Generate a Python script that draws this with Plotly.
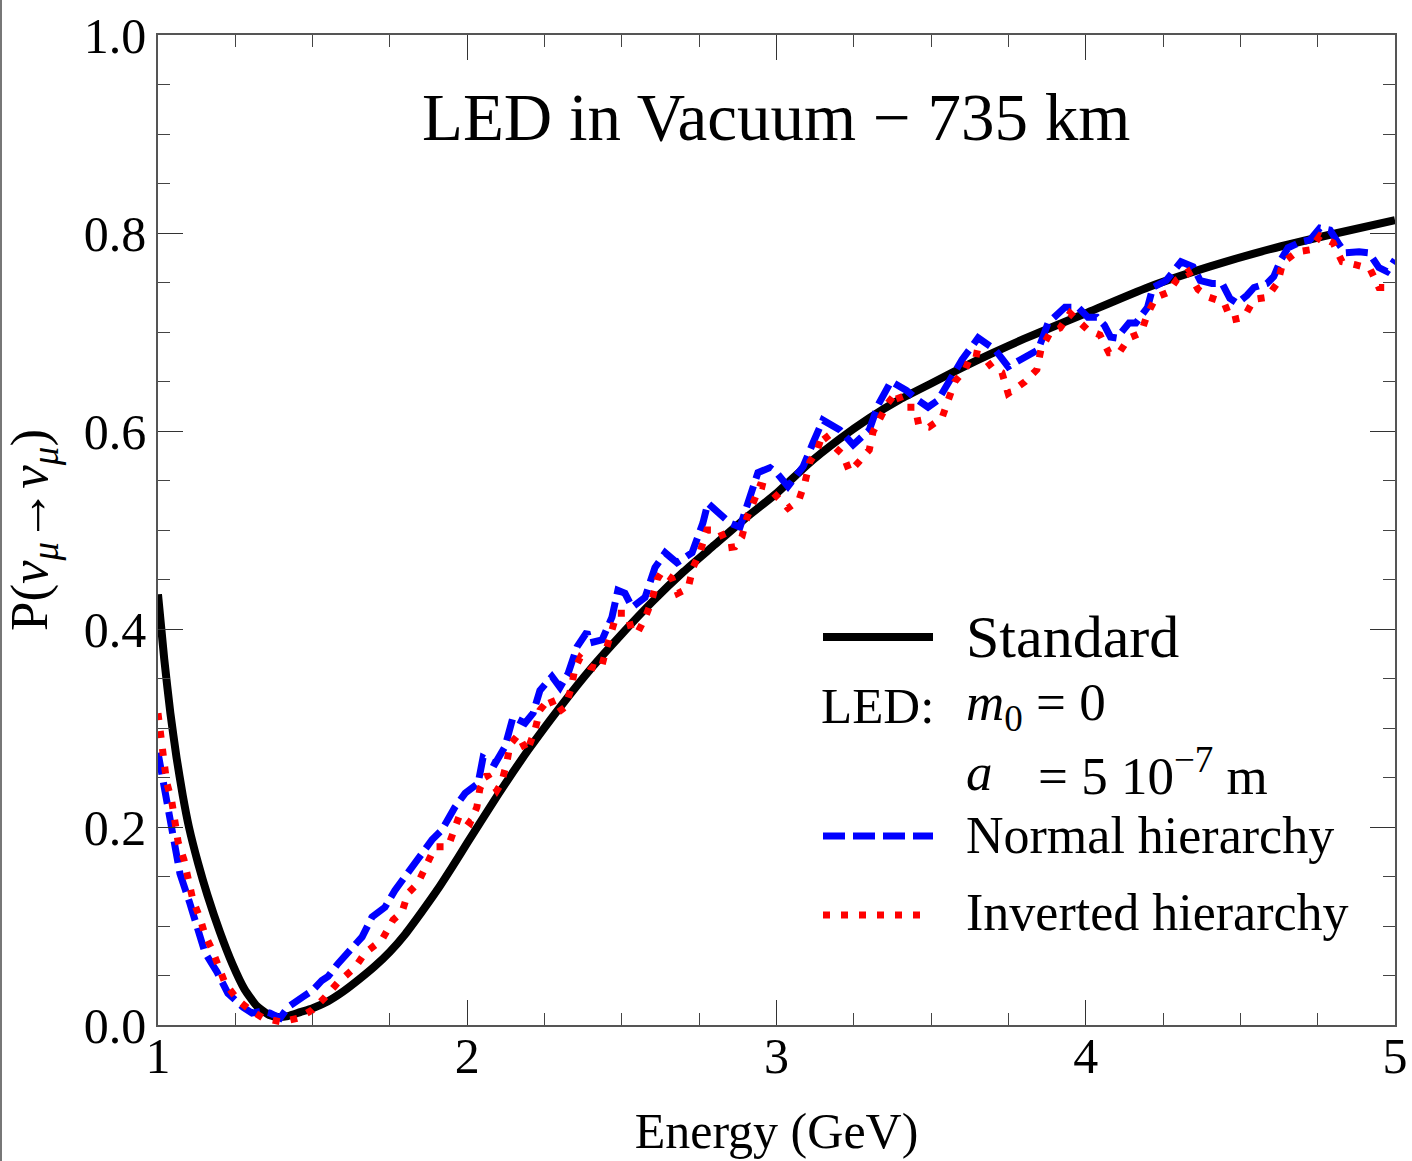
import plotly.graph_objects as go

# ---------------- data ----------------
std_E = [1.00, 1.02, 1.04, 1.06, 1.08, 1.10, 1.13, 1.16, 1.20, 1.24, 1.28, 1.32, 1.36, 1.39,
         1.42, 1.46, 1.50, 1.55, 1.60, 1.65, 1.70, 1.75, 1.80, 1.85, 1.90, 1.95, 2.00,
         2.10, 2.20, 2.30, 2.40, 2.50, 2.60, 2.70, 2.80, 2.90, 3.00, 3.10, 3.20, 3.30,
         3.40, 3.50, 3.60, 3.70, 3.80, 3.90, 4.00, 4.20, 4.40, 4.60, 4.80, 5.00]
std_P = [0.435, 0.370, 0.315, 0.270, 0.232, 0.200, 0.163, 0.131, 0.094, 0.062, 0.036, 0.019, 0.010, 0.008,
         0.009, 0.013, 0.017, 0.024, 0.034, 0.046, 0.059, 0.074, 0.092, 0.113, 0.135, 0.159, 0.184,
         0.233, 0.279, 0.321, 0.360, 0.395, 0.428, 0.458, 0.485, 0.512, 0.537, 0.566, 0.591, 0.613,
         0.632, 0.648, 0.664, 0.679, 0.693, 0.706, 0.719, 0.745, 0.766, 0.784, 0.799, 0.813]

nh_E = [1.000, 1.016, 1.032, 1.055, 1.071, 1.103, 1.126, 1.152, 1.190, 1.226, 1.275, 1.304, 1.335,
        1.362, 1.395, 1.420, 1.466, 1.500, 1.530, 1.550, 1.582, 1.627, 1.660, 1.692, 1.734, 1.766,
        1.808, 1.840, 1.886, 1.918, 1.960, 1.993, 2.035, 2.051, 2.090, 2.122, 2.148, 2.187, 2.213,
        2.235, 2.274, 2.300, 2.326, 2.355, 2.387, 2.397, 2.436, 2.468, 2.487, 2.510, 2.533, 2.575,
        2.607, 2.640, 2.678, 2.727, 2.762, 2.778, 2.817, 2.850, 2.882, 2.905, 2.940, 2.979, 3.000,
        3.037, 3.086, 3.118, 3.150, 3.205, 3.248, 3.300, 3.328, 3.370, 3.420, 3.458, 3.490, 3.522,
        3.558, 3.600, 3.652, 3.707, 3.749, 3.794, 3.846, 3.878, 3.933, 3.975, 4.007, 4.036, 4.060,
        4.080, 4.100, 4.140, 4.162, 4.200, 4.217, 4.260, 4.290, 4.308, 4.347, 4.370, 4.408, 4.441,
        4.466, 4.490, 4.521, 4.544, 4.586, 4.608, 4.631, 4.654, 4.696, 4.725, 4.757, 4.790, 4.816,
        4.838, 4.884, 4.916, 4.948, 4.974, 5.000]
nh_P = [0.275, 0.247, 0.218, 0.187, 0.153, 0.123, 0.099, 0.073, 0.054, 0.032, 0.018, 0.012, 0.014,
        0.012, 0.007, 0.018, 0.028, 0.035, 0.045, 0.049, 0.062, 0.079, 0.089, 0.109, 0.119, 0.136,
        0.153, 0.167, 0.187, 0.197, 0.220, 0.234, 0.244, 0.270, 0.264, 0.281, 0.311, 0.305, 0.315,
        0.338, 0.352, 0.341, 0.355, 0.382, 0.397, 0.386, 0.389, 0.412, 0.439, 0.436, 0.422, 0.432,
        0.462, 0.477, 0.467, 0.477, 0.507, 0.527, 0.517, 0.507, 0.503, 0.527, 0.558, 0.563, 0.558,
        0.544, 0.564, 0.588, 0.611, 0.601, 0.586, 0.601, 0.626, 0.650, 0.641, 0.631, 0.624, 0.631,
        0.651, 0.672, 0.694, 0.682, 0.665, 0.672, 0.682, 0.709, 0.725, 0.725, 0.715, 0.715, 0.707,
        0.695, 0.694, 0.709, 0.709, 0.725, 0.745, 0.752, 0.763, 0.771, 0.766, 0.752, 0.749, 0.749,
        0.734, 0.729, 0.737, 0.745, 0.749, 0.756, 0.773, 0.785, 0.791, 0.793, 0.805, 0.803, 0.790,
        0.780, 0.781, 0.780, 0.765, 0.761, 0.773]

ih_E = [1.000, 1.013, 1.028, 1.044, 1.065, 1.084, 1.097, 1.113, 1.136, 1.152, 1.175, 1.217, 1.259,
        1.298, 1.340, 1.400, 1.453, 1.498, 1.540, 1.582, 1.637, 1.670, 1.724, 1.760, 1.789, 1.808,
        1.840, 1.873, 1.896, 1.938, 1.960, 1.975, 2.009, 2.031, 2.041, 2.064, 2.096, 2.110, 2.128,
        2.138, 2.164, 2.193, 2.219, 2.235, 2.268, 2.290, 2.316, 2.336, 2.348, 2.365, 2.397, 2.432,
        2.449, 2.468, 2.484, 2.517, 2.533, 2.552, 2.575, 2.597, 2.614, 2.630, 2.662, 2.681, 2.714,
        2.730, 2.753, 2.775, 2.817, 2.843, 2.866, 2.888, 2.905, 2.924, 2.947, 2.973, 3.005, 3.037,
        3.072, 3.092, 3.108, 3.131, 3.150, 3.180, 3.215, 3.236, 3.264, 3.300, 3.312, 3.341, 3.360,
        3.390, 3.409, 3.448, 3.460, 3.493, 3.535, 3.555, 3.577, 3.610, 3.632, 3.665, 3.697, 3.729,
        3.749, 3.778, 3.804, 3.842, 3.855, 3.884, 3.917, 3.949, 3.981, 4.007, 4.046, 4.075, 4.108,
        4.140, 4.179, 4.198, 4.227, 4.266, 4.295, 4.331, 4.363, 4.399, 4.447, 4.470, 4.512, 4.544,
        4.586, 4.621, 4.637, 4.683, 4.725, 4.757, 4.800, 4.829, 4.871, 4.919, 4.948, 5.000]
ih_P = [0.315, 0.283, 0.245, 0.227, 0.185, 0.167, 0.146, 0.126, 0.108, 0.091, 0.076, 0.042, 0.025,
        0.015, 0.007, 0.003, 0.007, 0.015, 0.028, 0.043, 0.058, 0.073, 0.086, 0.106, 0.114, 0.133,
        0.143, 0.165, 0.180, 0.180, 0.197, 0.212, 0.204, 0.220, 0.239, 0.253, 0.237, 0.244, 0.265,
        0.283, 0.293, 0.276, 0.298, 0.318, 0.331, 0.315, 0.321, 0.340, 0.360, 0.371, 0.362, 0.359,
        0.379, 0.397, 0.416, 0.416, 0.397, 0.397, 0.411, 0.429, 0.450, 0.458, 0.451, 0.436, 0.441,
        0.462, 0.478, 0.500, 0.500, 0.482, 0.483, 0.493, 0.513, 0.527, 0.545, 0.543, 0.532, 0.522,
        0.530, 0.548, 0.569, 0.580, 0.598, 0.586, 0.576, 0.559, 0.568, 0.581, 0.599, 0.616, 0.628,
        0.640, 0.624, 0.624, 0.606, 0.604, 0.613, 0.631, 0.650, 0.662, 0.679, 0.677, 0.664, 0.659,
        0.638, 0.644, 0.650, 0.662, 0.682, 0.699, 0.704, 0.719, 0.710, 0.702, 0.697, 0.679, 0.679,
        0.694, 0.699, 0.717, 0.735, 0.740, 0.753, 0.761, 0.743, 0.735, 0.730, 0.712, 0.715, 0.733,
        0.735, 0.750, 0.770, 0.781, 0.783, 0.797, 0.790, 0.771, 0.768, 0.764, 0.745, 0.745]

x_ticks = [1, 2, 3, 4, 5]
y_ticks = [0.0, 0.2, 0.4, 0.6, 0.8, 1.0]

title_text = "LED in Vacuum \u2212 735 km"
x_title = "Energy (GeV)"
y_title = "P(<i>\u03bd</i><sub><i>\u03bc</i></sub>\u2192<i>\u03bd</i><sub><i>\u03bc</i></sub>)"

FONT = "Liberation Serif, Times New Roman, serif"

# ---------------- figure ----------------
W, H = 1412, 1161
L, R, T, B = 158, 1395, 35, 1025

fig = go.Figure()
fig.add_trace(go.Scatter(x=std_E, y=std_P, mode="lines", line=dict(color="black", width=8, shape="spline", smoothing=0.5),
                         showlegend=False, hoverinfo="skip"))
fig.add_trace(go.Scatter(x=nh_E, y=nh_P, mode="lines", line=dict(color="#0000ff", width=7, dash="22px,8px"),
                         showlegend=False, hoverinfo="skip"))
fig.add_trace(go.Scatter(x=ih_E, y=ih_P, mode="lines", line=dict(color="#ff0000", width=7, dash="7px,11px"),
                         showlegend=False, hoverinfo="skip"))

axis_common = dict(
    showgrid=False, zeroline=False, showline=True, linecolor="#555555", linewidth=1.5,
    mirror="allticks", ticks="inside", ticklen=25, tickwidth=1.3, tickcolor="#333333",
    tickfont=dict(family=FONT, size=50, color="black"), automargin=False,
)
fig.update_xaxes(range=[1, 5], tickvals=x_ticks, ticktext=[str(v) for v in x_ticks],
                 minor=dict(dtick=0.25, tick0=1, ticks="inside", ticklen=12, tickwidth=1.2, tickcolor="#444444"),
                 title=dict(text=x_title, font=dict(family=FONT, size=50, color="black"), standoff=30),
                 ticklabelstandoff=-14,
                 **axis_common)
fig.update_yaxes(range=[0, 1], tickvals=y_ticks, ticktext=["%.1f" % v for v in y_ticks],
                 minor=dict(dtick=0.05, tick0=0, ticks="inside", ticklen=12, tickwidth=1.2, tickcolor="#444444"),
                 title=dict(text=y_title, font=dict(family=FONT, size=53, color="black"), standoff=24),
                 **axis_common)

def px2paper(px, py):
    return (px - L) / (R - L), (B - py) / (B - T)

shapes = []
# legend samples
for (x0, x1, yy, col, dash, wd) in [(823, 933, 637, "black", "solid", 8),
                                    (823, 933, 836, "#0000ff", "22px,8px", 7),
                                    (823, 925, 915, "#ff0000", "7px,11px", 7)]:
    a0, b0 = px2paper(x0, yy)
    a1, _ = px2paper(x1, yy)
    shapes.append(dict(type="line", xref="paper", yref="paper", x0=a0, x1=a1, y0=b0, y1=b0,
                       line=dict(color=col, width=wd, dash=dash)))
# left page border line
lx, _ = px2paper(1, 0)
_, ly0 = px2paper(0, H)
_, ly1 = px2paper(0, 0)
shapes.append(dict(type="line", xref="paper", yref="paper", x0=lx, x1=lx, y0=ly0, y1=ly1,
                   line=dict(color="#777777", width=2)))

annotations = []
def add_text(text, px, py, size, xanchor="left"):
    xp, yp = px2paper(px, py)
    annotations.append(dict(text=text, xref="paper", yref="paper", x=xp, y=yp, xanchor=xanchor,
                            yanchor="middle", showarrow=False,
                            font=dict(family=FONT, size=size, color="black")))

add_text(title_text, 776, 117, 67, xanchor="center")
add_text("Standard", 964, 637, 60)
add_text("LED:", 819, 706, 51)
add_text("<i>m</i><sub>0</sub> = 0", 964, 706, 53)
add_text("<i>a</i>", 964, 772, 53)
add_text("= 5 10<sup>\u22127</sup> m", 1036, 772, 53)
add_text("Normal hierarchy", 964, 835, 52)
add_text("Inverted hierarchy", 964, 913, 52)

fig.update_layout(
    width=W, height=H, margin=dict(l=L, r=W - R, t=T, b=H - B, pad=0, autoexpand=False),
    paper_bgcolor="white", plot_bgcolor="white",
    shapes=shapes, annotations=annotations, showlegend=False,
    font=dict(family=FONT, color="black"),
)

fig.write_html("out.html")
